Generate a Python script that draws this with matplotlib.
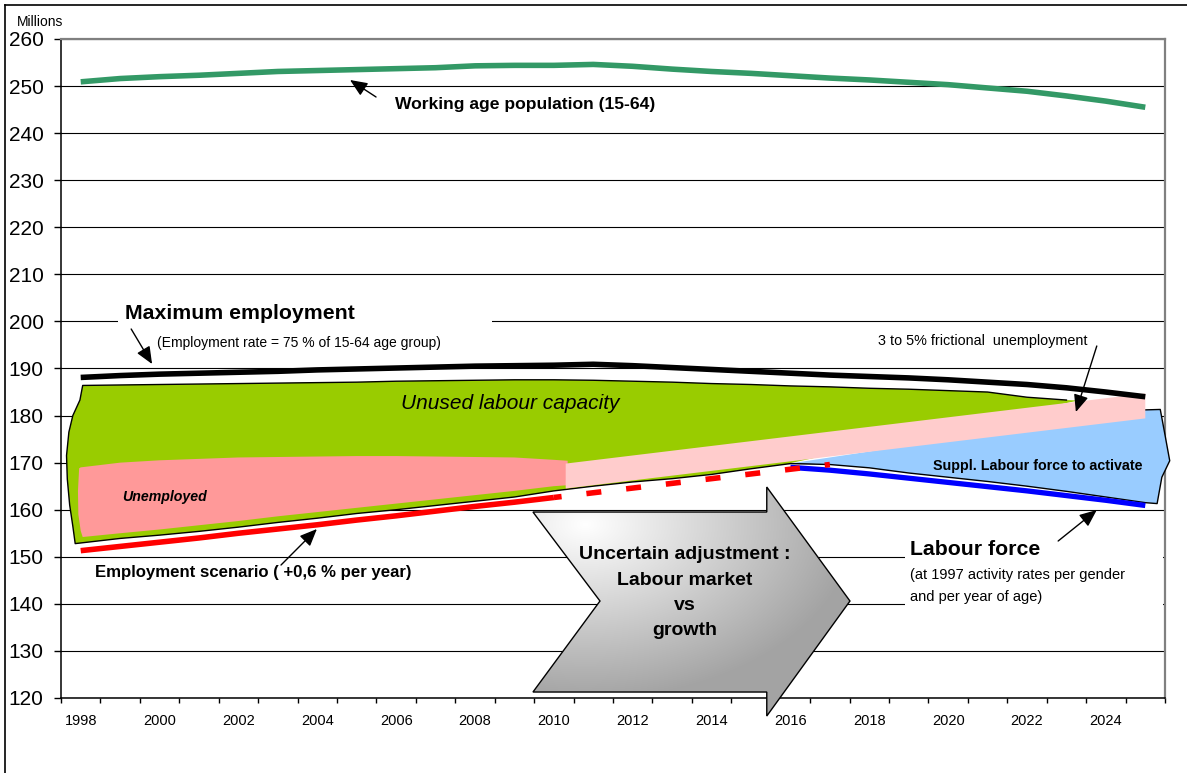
import matplotlib
matplotlib.use("Agg")
import numpy as np
import matplotlib.pyplot as plt
from matplotlib import font_manager
from matplotlib.patches import Polygon, Rectangle
from matplotlib.lines import Line2D
from matplotlib.transforms import TransformedBbox, Bbox

# ---------------- data (millions) ----------------
years = list(range(1998, 2026))
working_age_pop = [250.9, 251.6, 252.0, 252.3, 252.7, 253.1, 253.3, 253.5, 253.7, 253.9,
                   254.3, 254.4, 254.4, 254.6, 254.2, 253.6, 253.1, 252.7, 252.2, 251.7,
                   251.3, 250.8, 250.3, 249.6, 248.9, 247.9, 246.8, 245.5]
max_employment = [188.1, 188.5, 188.8, 189.0, 189.2, 189.4, 189.7, 189.9, 190.1, 190.3,
                  190.5, 190.6, 190.7, 190.9, 190.6, 190.2, 189.8, 189.4, 189.0, 188.6,
                  188.3, 188.0, 187.6, 187.1, 186.6, 185.9, 185.0, 184.0]
employment_years = list(range(1998, 2011))
employment = [151.3, 152.2, 153.1, 154.0, 155.0, 155.9, 156.8, 157.8, 158.7, 159.7,
              160.7, 161.6, 162.6]
projection_years = list(range(2010, 2018))
employment_projection = [162.6, 163.6, 164.6, 165.6, 166.6, 167.6, 168.6, 169.6]
labour_force_years = list(range(2016, 2026))
labour_force = [169.0, 168.4, 167.6, 166.7, 165.8, 164.9, 164.0, 163.0, 162.0, 160.9]

# boundaries of the shaded zones
capacity_top_years = list(range(1998, 2024))
capacity_top = [186.4, 186.5, 186.6, 186.7, 186.8, 186.9, 187.0, 187.1, 187.3, 187.4,
                187.5, 187.6, 187.6, 187.5, 187.3, 187.1, 186.8, 186.6, 186.3, 186.1,
                185.8, 185.6, 185.3, 185.0, 183.9, 183.3]
capacity_bottom_years = list(range(1998, 2017))
capacity_bottom = [152.9, 153.9, 154.6, 155.4, 156.3, 157.3, 158.2, 159.2, 160.0, 160.9,
                   161.8, 162.7, 164.0, 165.0, 165.9, 166.6, 167.5, 168.7, 169.8]
capacity_left_x = [1997.86, 1997.80, 1997.72, 1997.66, 1997.64, 1997.70, 1997.80, 1997.98, 1998.05]
capacity_left_y = [152.8, 156.5, 161.0, 166.5, 171.5, 176.5, 180.0, 183.3, 186.4]

unemployed_years = list(range(1998, 2011))
unemployed_top = [169.0, 170.0, 170.5, 170.8, 171.1, 171.2, 171.3, 171.4, 171.4, 171.3,
                  171.2, 171.1, 170.6]
unemployed_bottom = [154.2, 155.0, 155.8, 156.7, 157.6, 158.6, 159.5, 160.4, 161.3, 162.2,
                     163.1, 164.0, 165.0]

frictional_x = [2010.3, 2025.0]
frictional_top = [169.8, 184.7]
frictional_bottom = [164.5, 179.4]

suppl_years = list(range(2016, 2026))
suppl_bottom = [169.8, 169.6, 168.9, 167.8, 166.9, 166.0, 165.0, 163.9, 162.7, 161.5]
suppl_right_x = [2025.30, 2025.42, 2025.62, 2025.48, 2025.38, 2024.97]
suppl_right_y = [161.3, 166.9, 170.4, 176.8, 181.3, 181.2]

y_ticks = list(range(120, 261, 10))
x_label_years = list(range(1998, 2026, 2))


def font_available(name):
    try:
        font_manager.findfont(font_manager.FontProperties(family=name),
                              fallback_to_default=False)
        return True
    except Exception:
        return False


BASE = "Liberation Sans" if font_available("Liberation Sans") else "DejaVu Sans"
plt.rcParams["font.family"] = [BASE, "DejaVu Sans"]

W, H = 1187, 773
fig = plt.figure(figsize=(W / 100, H / 100), dpi=100)
fig.patch.set_facecolor("white")
ax = fig.add_axes([61 / W, 1 - 698 / H, (1165 - 61) / W, (698 - 39) / H])
ax.set_xlim(1997.5, 2025.5)
ax.set_ylim(120, 260)

# frame around the figure (top and left edges)
fig.add_artist(Line2D([5 / W, 1], [1 - 5 / H, 1 - 5 / H], transform=fig.transFigure,
                      color="black", lw=1.2))
fig.add_artist(Line2D([5 / W, 5 / W], [0, 1 - 5 / H], transform=fig.transFigure,
                      color="black", lw=1.2))

# axes styling
ax.set_axisbelow(True)
ax.set_yticks(y_ticks)
ax.yaxis.grid(True, color="black", lw=0.8)
ax.tick_params(axis="y", direction="out", length=5, width=1, pad=7.5, labelsize=15)
ax.set_xticks(x_label_years)
ax.set_xticks(np.arange(1997.5, 2026, 1.0), minor=True)
ax.tick_params(axis="x", which="major", length=0, pad=11.5, labelsize=10.5)
ax.tick_params(axis="x", which="minor", direction="out", length=3.5, width=1)
for side in ("top", "right"):
    ax.spines[side].set_color("#808080")
    ax.spines[side].set_linewidth(1.6)
for side in ("left", "bottom"):
    ax.spines[side].set_color("black")
    ax.spines[side].set_linewidth(1.1)

fig.text(17 / W, 1 - 21.5 / H, "Millions", fontsize=10, ha="left", va="center")

# ---------------- shaded zones ----------------
suppl_poly = ([(2016.05, 169.9)] +
              list(zip(suppl_years[1:], suppl_bottom[1:])) +
              list(zip(suppl_right_x, suppl_right_y)))
ax.add_patch(Polygon(suppl_poly, closed=True, fc="#99CCFF", ec="none", zorder=2.52,
                     clip_on=False))

capacity_poly = (list(zip(capacity_left_x, capacity_left_y)) +
                 list(zip(capacity_top_years[1:], capacity_top[1:])) +
                 [(2023.3, 183.2), (2016.0, 169.9)] +
                 list(zip(capacity_bottom_years[::-1], capacity_bottom[::-1])))
ax.add_patch(Polygon(capacity_poly, closed=True, fc="#99CC00", ec="none", zorder=2.54))

unemp_poly = ([(1997.96, 168.8), (1997.93, 164.0), (1997.94, 159.0), (1998.0, 155.5),
               (1998.05, 154.2)] +
              list(zip(unemployed_years[1:], unemployed_bottom[1:])) +
              [(2010.35, 165.2), (2010.35, 170.4)] +
              list(zip(unemployed_years[::-1], unemployed_top[::-1])))
ax.add_patch(Polygon(unemp_poly, closed=True, fc="#FF9999", ec="none", zorder=2.56))

# thin outline around the capacity and supplementary zones
outline = (list(zip(capacity_top_years[::-1], capacity_top[::-1]))[:-1] +
           list(zip(capacity_left_x[::-1], capacity_left_y[::-1])) +
           list(zip(capacity_bottom_years[1:], capacity_bottom[1:])) +
           list(zip(suppl_years[1:], suppl_bottom[1:])) +
           list(zip(suppl_right_x, suppl_right_y)))
ox, oy = zip(*outline)
ax.plot(ox, oy, color="black", lw=1.0, zorder=2.58, solid_joinstyle="round",
        clip_on=False)

band = [(frictional_x[0], frictional_bottom[0]), (frictional_x[1], frictional_bottom[1]),
        (frictional_x[1], frictional_top[1]), (frictional_x[0], frictional_top[0])]
ax.add_patch(Polygon(band, closed=True, fc="#FFCCCC", ec="none", zorder=2.6))

# ---------------- series ----------------
ax.plot(years, working_age_pop, color="#339966", lw=4.0, zorder=3,
        solid_capstyle="butt")
ax.plot(years, max_employment, color="black", lw=4.0, zorder=3, solid_capstyle="butt")
ax.plot(labour_force_years, labour_force, color="#0000FF", lw=3.8, zorder=3.1,
        solid_capstyle="butt")
ax.plot(employment_years, employment, color="#FF0000", lw=4.0, zorder=3.2,
        solid_capstyle="butt")
ax.plot(projection_years, employment_projection, color="#FF0000", lw=4.0, zorder=3.2,
        linestyle=(1.3, (2.7, 4.5)), dash_capstyle="butt")

# ---------------- white label boxes ----------------
ax.add_patch(Rectangle((1998.95, 192.65), 2008.43 - 1998.95, 204.55 - 192.65,
                       fc="white", ec="none", zorder=1.5))
ax.add_patch(Rectangle((2018.90, 139.33), 2025.45 - 2018.90, 154.20 - 139.33,
                       fc="white", ec="none", zorder=1.5))

# ---------------- labels and arrows ----------------
arrow_kw = dict(arrowstyle="-|>,head_length=0.75,head_width=0.32", color="black",
                lw=1.0, shrinkA=0, shrinkB=0, mutation_scale=14)


def pointer(tail, head):
    ax.annotate("", xy=head, xytext=tail, arrowprops=arrow_kw, zorder=4)


ax.text(2005.97, 245.98, "Working age population (15-64)", fontsize=12.6,
        fontweight="bold", ha="left", va="center", zorder=4)
pointer((2005.49, 247.68), (2004.83, 251.29))

ax.text(1999.12, 201.79, "Maximum employment", fontsize=15.3, fontweight="bold",
        ha="left", va="center", zorder=4)
ax.text(1999.93, 195.42, "(Employment rate = 75 % of 15-64 age group)", fontsize=10,
        ha="left", va="center", zorder=4)
pointer((1999.28, 198.39), (1999.81, 190.95))

ax.text(2008.89, 182.67, "Unused labour capacity", fontsize=15, fontstyle="italic",
        ha="center", va="center", zorder=4)
ax.text(1999.05, 162.70, "Unemployed", fontsize=10.2, fontstyle="italic",
        fontweight="bold", ha="left", va="center", zorder=4)

ax.text(1998.36, 146.76, "Employment scenario ( +0,6 % per year)", fontsize=12.1,
        fontweight="bold", ha="left", va="center", zorder=4)
pointer((2003.08, 148.25), (2003.99, 155.90))

fric = ax.text(2018.22, 194.99, "3 to 5% frictional  unemployment", fontsize=10.4,
               ha="left", va="baseline", zorder=4)
fric.set_clip_path(Rectangle((2017.5, 194.8), 8.0, 10.0, transform=ax.transData))
pointer((2023.77, 194.78), (2023.24, 180.76))

ax.text(2019.61, 169.28, "Suppl. Labour force to activate", fontsize=10.3,
        fontweight="bold", ha="left", va="center", zorder=4)

ax.text(2019.03, 151.65, "Labour force", fontsize=15.3, fontweight="bold",
        ha="left", va="center", zorder=4)
ax.text(2019.03, 146.13, "(at 1997 activity rates per gender", fontsize=10.5,
        ha="left", va="center", zorder=4)
ax.text(2019.03, 141.45, "and per year of age)", fontsize=10.5,
        ha="left", va="center", zorder=4)
pointer((2022.79, 153.35), (2023.77, 159.94))

# ---------------- chevron arrow with grey gradient ----------------
chev = [(2009.47, 159.51), (2015.40, 159.51), (2015.40, 164.82), (2017.51, 140.60),
        (2015.40, 116.17), (2015.40, 121.27), (2009.47, 121.27), (2011.17, 140.60)]
x0, x1, y0, y1 = 2009.47, 2017.51, 116.17, 164.82
nx, ny = 400, 300
gx = np.linspace(x0, x1, nx)
gy = np.linspace(y1, y0, ny)
GX, GY = np.meshgrid(gx, gy)
px = (GX - 1997.5) * 39.43 + 61
py = (260 - GY) * 4.707 + 39
d = np.sqrt(((px - 585) / 270.0) ** 2 + ((py - 525) / 175.0) ** 2)
shade = 1.0 - 0.36 * np.clip(d, 0, 1)
rgb = np.dstack([shade, shade, shade])
clip_poly = Polygon(chev, closed=True, transform=ax.transData)
im = ax.imshow(rgb, extent=(x0, x1, y0, y1), origin="upper", aspect="auto",
               interpolation="bilinear", zorder=5)
im.set_clip_box(TransformedBbox(Bbox.unit(), fig.transFigure))
im.set_clip_path(clip_poly)
ax.add_patch(Polygon(chev, closed=True, fill=False, ec="black", lw=1.0,
                     clip_on=False, zorder=6))
for yv, line in zip([150.59, 145.06, 139.75, 134.44],
                    ["Uncertain adjustment :", "Labour market", "vs", "growth"]):
    ax.text(2013.33, yv, line, fontsize=14, fontweight="bold", ha="center",
            va="center", zorder=7)

ax.set_xlim(1997.5, 2025.5)
ax.set_ylim(120, 260)

fig.savefig("out.png", dpi=100, facecolor="white")
